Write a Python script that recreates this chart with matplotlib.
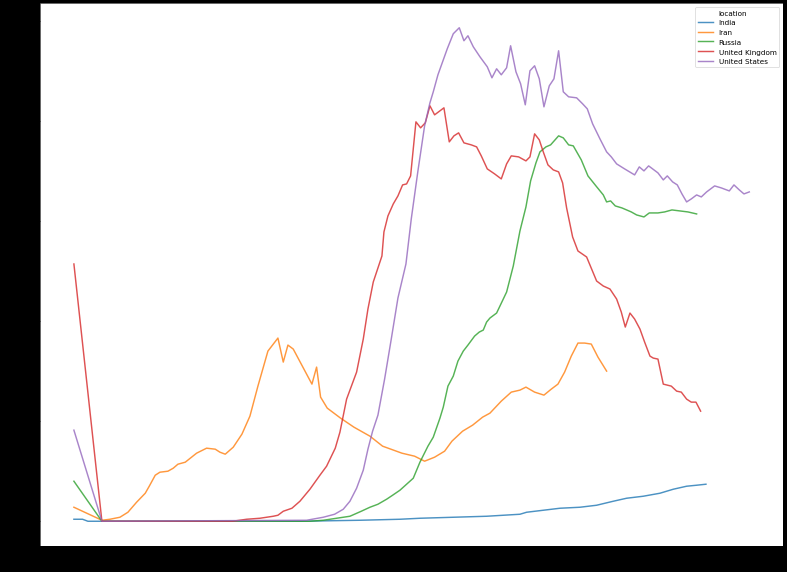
import matplotlib
matplotlib.use("Agg")
import matplotlib.pyplot as plt
from matplotlib.lines import Line2D

# days since first record, and values per location
india_days = [0, 13, 21, 339, 429, 489, 519, 569, 619, 669, 679, 704, 729, 759,
              784, 809, 829, 854, 879, 899, 919, 934, 948]
india_vals = [2, 2, 0, 0, 1, 2, 3, 4, 5, 7, 9, 11, 13, 14,
              16, 20, 23, 25, 28, 32, 35, 36, 37]

iran_days = [0, 42, 54, 69, 81, 94, 107, 113, 122, 129, 141, 149, 156, 167,
             184, 199, 212, 219, 227, 239, 252, 264, 276, 291, 306, 314, 321,
             329, 357, 364, 370, 380, 400, 420, 444, 463, 492, 511, 526, 541,
             556, 567, 583, 598, 613, 624, 641, 656, 669, 678, 691, 705, 716,
             726, 736, 746, 756, 766, 776, 786, 799]
iran_vals = [14, 1, 2, 4, 9, 19, 28, 35, 46, 49, 50, 53, 57, 59,
             68, 73, 72, 69, 67, 74, 87, 105, 135, 170, 183, 159, 176,
             172, 137, 154, 124, 113, 103, 94, 85, 75, 68, 65, 60, 64,
             70, 80, 90, 96, 104, 108, 120, 129, 131, 134, 129, 126, 132,
             137, 149, 165, 178, 178, 177, 164, 150]

russia_days = [0, 42, 354, 374, 394, 414, 431, 444, 456, 469, 478, 489, 499,
               509, 519, 531, 539, 549, 554, 561, 569, 576, 584, 591, 601, 608,
               614, 619, 624, 634, 649, 659, 669, 678, 685, 693, 699, 708, 715,
               727, 734, 742, 749, 761, 771, 783, 794, 799, 805, 812, 822, 836,
               844, 855, 863, 876, 886, 897, 909, 921, 934]
russia_vals = [40, 0, 0, 1, 3, 5, 10, 14, 17, 22, 26, 31, 37,
               43, 59, 75, 84, 103, 114, 135, 145, 160, 170, 176, 185, 189,
               191, 199, 203, 208, 229, 255, 290, 314, 340, 358, 369, 374, 376,
               385, 383, 376, 375, 361, 345, 335, 326, 319, 320, 315, 313, 309,
               306, 304, 308, 308, 309, 311, 310, 309, 307]

uk_days = [0, 42, 238, 259, 279, 299, 306, 314, 327, 339, 354, 369, 379, 392,
           399, 409, 424, 434, 441, 449, 462, 465, 471, 479, 486, 493, 499,
           505, 513, 520, 527, 534, 541, 555, 563, 570, 577, 585, 596, 604,
           611, 620, 631, 641, 649, 656, 667, 678, 684, 691, 698, 704, 711,
           719, 727, 733, 739, 748, 756, 769, 784, 794, 804, 814, 821, 827,
           834, 841, 849, 856, 864, 869, 876, 884, 896, 904, 911, 919, 926,
           933, 940]
uk_vals = [257, 0, 0, 2, 3, 5, 6, 10, 13, 20, 32, 46, 55, 73,
           89, 122, 149, 182, 212, 239, 265, 289, 305, 317, 325, 336, 337,
           345, 399, 393, 398, 415, 406, 413, 379, 385, 388, 378, 376, 374,
           365, 352, 347, 342, 357, 365, 364, 360, 364, 387, 381, 369, 356,
           351, 349, 338, 313, 284, 270, 264, 240, 235, 232, 222, 209, 194,
           208, 202, 192, 179, 165, 163, 162, 137, 135, 130, 129, 122, 119,
           119, 110]

us_days = [0, 42, 349, 374, 391, 404, 414, 424, 434, 441, 448, 456, 466, 476,
           486, 498, 506, 516, 526, 534, 539, 546, 560, 569, 578, 585, 591,
           599, 609, 620, 627, 634, 641, 649, 655, 663, 670, 677, 684, 691,
           698, 705, 713, 720, 727, 734, 742, 754, 763, 770, 778, 789, 799,
           806, 814, 826, 841, 848, 855, 862, 870, 876, 884, 890, 898, 905,
           912, 919, 926, 934, 941, 949, 961, 971, 983, 990, 998, 1005, 1013]
us_vals = [91, 0, 1, 4, 7, 12, 20, 33, 51, 72, 90, 106, 142, 182,
           223, 257, 302, 350, 395, 418, 429, 446, 472, 487, 493, 480, 485,
           474, 464, 454, 443, 452, 446, 453, 475, 449, 437, 416, 450, 455,
           442, 414, 435, 442, 470, 429, 424, 423, 417, 412, 397, 382, 369,
           364, 357, 352, 346, 354, 350, 355, 351, 348, 341, 345, 339, 336,
           327, 319, 322, 326, 324, 329, 335, 333, 330, 336, 331, 327, 329]

locations = ["India", "Iran", "Russia", "United Kingdom", "United States"]
series = [(india_days, india_vals), (iran_days, iran_vals),
          (russia_days, russia_vals), (uk_days, uk_vals), (us_days, us_vals)]

fig = plt.figure(figsize=(15, 10.92), dpi=787 / 15, facecolor="black")
ax = fig.add_axes([0.051, 0.0455, 0.944, 0.9475])

for name, (d, v) in zip(locations, series):
    ax.plot(d, v, label=name, lw=2.0, alpha=0.8)

# legend with the hue title as a first, blank entry
handles, labels = ax.get_legend_handles_labels()
blank = Line2D([], [], linestyle="none")
ax.legend([blank] + handles, ["location"] + labels, loc="upper right")

fig.savefig("out.png", dpi=787 / 15, facecolor="black")
